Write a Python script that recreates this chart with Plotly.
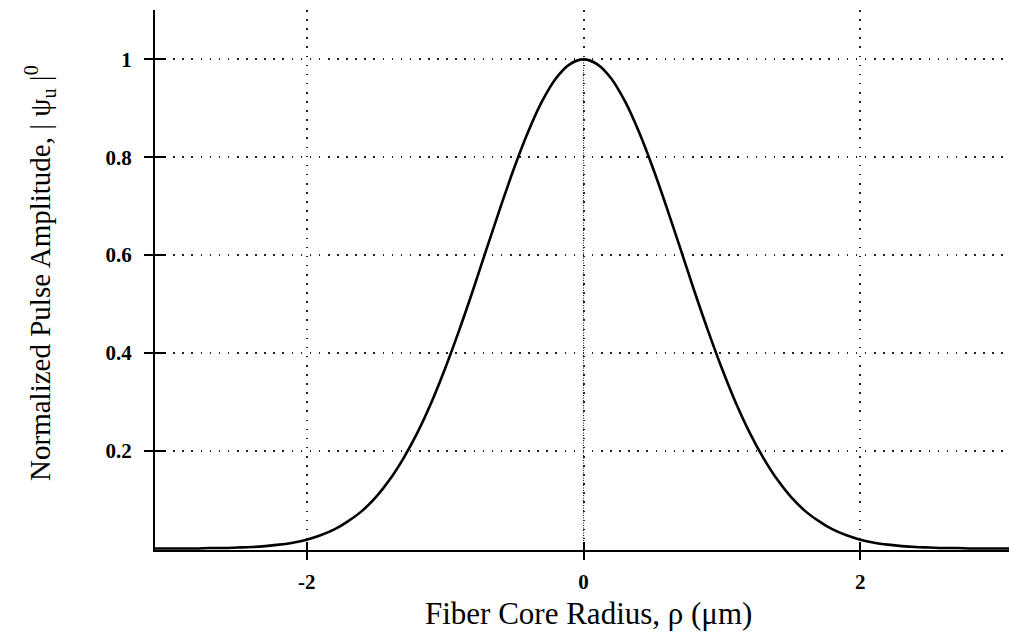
import plotly.graph_objects as go

# Data (right half; the curve is symmetric)
rho_half = [0.0, 0.1, 0.2, 0.3, 0.4, 0.5, 0.6, 0.7, 0.8, 0.9, 1.0, 1.1, 1.2, 1.3,
            1.4, 1.5, 1.6, 1.7, 1.8, 1.9, 2.0, 2.1, 2.2, 2.3, 2.4, 2.5, 2.6, 2.7,
            2.8, 2.9, 3.0, 3.1]
amp_half = [1.000, 0.990, 0.961, 0.914, 0.852, 0.779, 0.698, 0.613, 0.527, 0.445,
            0.368, 0.298, 0.237, 0.185, 0.141, 0.105, 0.077, 0.056, 0.039, 0.027,
            0.018, 0.012, 0.008, 0.005, 0.003, 0.002, 0.001, 0.001, 0.000, 0.000,
            0.000, 0.000]

rho = [-v for v in rho_half[:0:-1]] + rho_half
amp = amp_half[:0:-1] + amp_half

center_x = [0, 0]
center_y = [0, 1]

x_ticks = [-2, 0, 2]
x_ticktext = ["-2", "0", "2"]
y_ticks = [0.2, 0.4, 0.6, 0.8, 1.0]
y_ticktext = ["0.2", "0.4", "0.6", "0.8", "1"]

x_range = [-3.096, 3.074]
y_range = [-0.003, 1.101]

FONT = "Liberation Serif, Times New Roman, serif"

fig = go.Figure()

fig.add_trace(go.Scatter(x=center_x, y=center_y, mode="lines",
                         line=dict(color="#222", width=1.2, dash="1px,1.5px"),
                         hoverinfo="skip", showlegend=False))
fig.add_trace(go.Scatter(x=rho, y=amp, mode="lines", line_shape="spline",
                         line=dict(color="black", width=2.6),
                         showlegend=False))
# invisible trace for overlay axes (inside tick halves)
fig.add_trace(go.Scatter(x=[0], y=[0], xaxis="x2", yaxis="y2", mode="markers",
                         marker=dict(opacity=0), hoverinfo="skip", showlegend=False))

tickfont = dict(family=FONT, size=21, color="black", weight="bold")

fig.update_layout(
    width=1009, height=640,
    margin=dict(l=155, r=0, t=10, b=90),
    paper_bgcolor="white", plot_bgcolor="white",
    xaxis=dict(range=x_range, tickvals=x_ticks, ticktext=x_ticktext,
               ticks="outside", ticklen=8, tickwidth=2, tickcolor="black",
               showline=True, linecolor="black", linewidth=2,
               showgrid=True, gridcolor="#222", gridwidth=1.6, griddash="1.6px,7.5px",
               zeroline=False, tickfont=tickfont, ticklabelstandoff=4),
    yaxis=dict(range=y_range, tickvals=y_ticks, ticktext=y_ticktext,
               ticks="outside", ticklen=9, tickwidth=2, tickcolor="black",
               showline=True, linecolor="black", linewidth=2,
               showgrid=True, gridcolor="#222", gridwidth=1.6, griddash="1.6px,7.5px",
               zeroline=False, tickfont=tickfont, ticklabelstandoff=8),
    xaxis2=dict(range=x_range, overlaying="x", tickvals=x_ticks, ticks="inside",
                ticklen=8, tickwidth=2, tickcolor="black", showticklabels=False,
                showgrid=False, showline=False, zeroline=False),
    yaxis2=dict(range=y_range, overlaying="y", tickvals=y_ticks, ticks="inside",
                ticklen=11, tickwidth=2, tickcolor="black", showticklabels=False,
                showgrid=False, showline=False, zeroline=False),
    annotations=[
        dict(text="Fiber Core Radius, ρ (μm)", xref="paper", yref="paper",
             x=0.508, y=-0.1167, xanchor="center", yanchor="middle", showarrow=False,
             font=dict(family=FONT, size=31, color="black")),
        dict(text="Normalized Pulse Amplitude, | ψ<sub>u</sub> |<sup>0</sup>",
             xref="paper", yref="paper", x=-0.1347, y=0.513, textangle=-90,
             xanchor="center", yanchor="middle", showarrow=False,
             font=dict(family=FONT, size=29, color="black")),
    ],
)

fig.write_html("out.html")
